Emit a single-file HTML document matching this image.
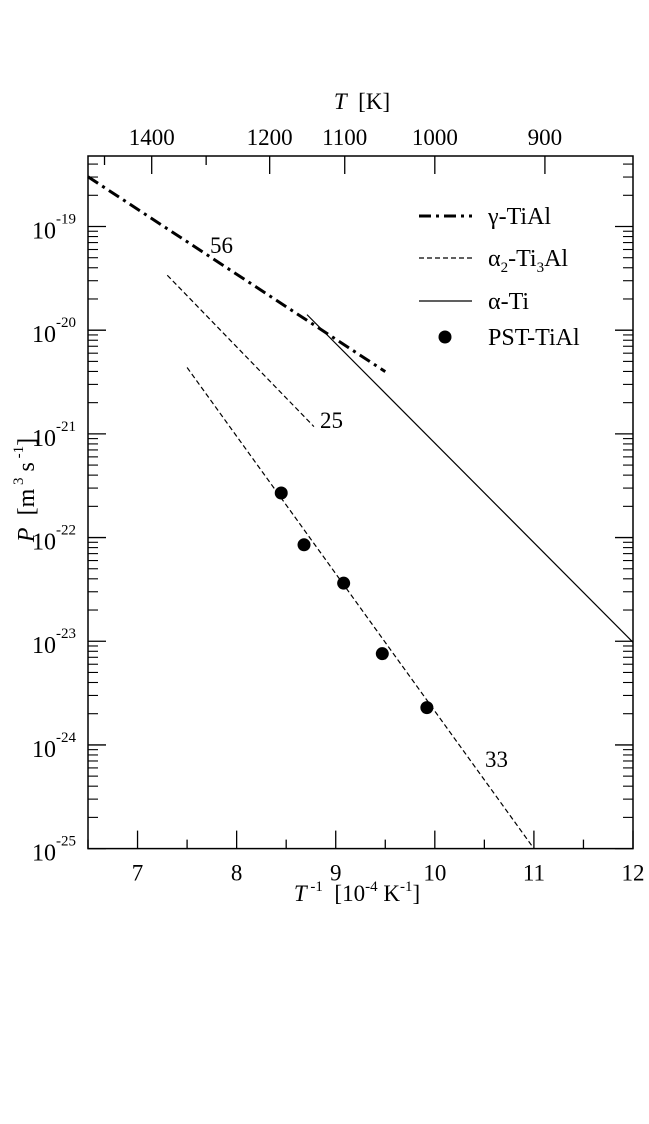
<!DOCTYPE html>
<html><head><meta charset="utf-8"><style>
html,body{margin:0;padding:0;background:#fff;}
svg text{font-family:"Liberation Serif",serif;fill:#000;}
</style></head><body>
<svg id="chart" width="649" height="1119" xmlns="http://www.w3.org/2000/svg">
<g id="axes"></g><g id="marks"></g>
</svg>
<script>
const xTicks=[7,8,9,10,11,12];
const topTicksMajor=[1400,1200,1100,1000,900];
const topTicksMinor=[1500,1300];
const yDecades=[-25,-24,-23,-22,-21,-20,-19];
const gammaX=[6.5,9.5], gammaY=[-18.52,-20.40];
const alpha2X=[7.3,8.78], alpha2Y=[-19.47,-20.93];
const alphaTiX=[8.71,12.0], alphaTiY=[-19.85,-23.01];
const pstLineX=[7.5,11.0], pstLineY=[-20.36,-25.0];
const pstX=[8.45,8.68,9.08,9.47,9.92];
const pstY=[-21.57,-22.07,-22.44,-23.12,-23.64];
const L=88,R=633,T=156,B=848.6;
const xMin=6.5,xMax=12,yMin=-25,yMax=-18.32;
const sx=v=>L+(v-xMin)/(xMax-xMin)*(R-L);
const sy=v=>B-(v-yMin)/(yMax-yMin)*(B-T);
const NS="http://www.w3.org/2000/svg";
const SP='\u00a0';
function mk(tag,attrs,parent,txt){const e=document.createElementNS(NS,tag);for(const k in attrs)e.setAttribute(k,attrs[k]);if(txt!==undefined)e.textContent=txt;parent.appendChild(e);return e;}
const ax=document.getElementById('axes'), mg=document.getElementById('marks');
let fr=mk('rect',{x:L,y:T,width:R-L,height:B-T,fill:'none',stroke:'#000','stroke-width':1.5},ax);


for(let v=6.5;v<=12.001;v+=0.5){const maj=Math.abs(v-Math.round(v))<1e-6;const len=maj?18:9;const x=sx(v);
 let t=mk('line',{x1:x,y1:B,x2:x,y2:B-len,stroke:'#000','stroke-width':1.3},ax);
 
 }
xTicks.forEach(v=>{let t=mk('text',{x:sx(v),y:B+32,'font-size':23,'text-anchor':'middle'},ax,String(v));
 
 });
topTicksMajor.forEach(T0=>{const x=sx(1e4/T0);
 let l=mk('line',{x1:x,y1:T,x2:x,y2:T+18,stroke:'#000','stroke-width':1.3},ax);
 
 
 let t=mk('text',{x:x,y:T-11,'font-size':23,'text-anchor':'middle'},ax,String(T0));
 
 });
topTicksMinor.forEach(T0=>{const x=sx(1e4/T0);
 let l=mk('line',{x1:x,y1:T,x2:x,y2:T+9,stroke:'#000','stroke-width':1.3},ax);
 
 });
for(let d=-25;d<=-19;d++){for(let m=1;m<=9;m++){const lv=d+Math.log10(m);if(lv>yMax)continue;const y=sy(lv);const len=m==1?18:10;
 [[L,L+len],[R,R-len]].forEach(p=>{let l=mk('line',{x1:p[0],y1:y,x2:p[1],y2:y,stroke:'#000','stroke-width':m==1?1.3:1.1},ax);
 
 });}}
yDecades.forEach(d=>{const y=sy(d);
 let t=mk('text',{x:32,y:y+12,'font-size':24},ax);
 
 
 mk('tspan',{},t,'10');mk('tspan',{dy:-15,'font-size':15},t,String(d));});
let xt=mk('text',{x:357,y:901,'font-size':23,'text-anchor':'middle'},ax);


mk('tspan',{'font-style':'italic'},xt,'T');mk('tspan',{dy:-10,'font-size':15},xt,SP+'-1');mk('tspan',{dy:10},xt,SP+SP+'[10');mk('tspan',{dy:-10,'font-size':15},xt,'-4');mk('tspan',{dy:10},xt,SP+'K');mk('tspan',{dy:-10,'font-size':15},xt,'-1');mk('tspan',{dy:10},xt,']');
let tt=mk('text',{x:362,y:109,'font-size':23,'text-anchor':'middle'},ax);


mk('tspan',{'font-style':'italic'},tt,'T');mk('tspan',{},tt,SP+SP+'[K]');
let yt=mk('text',{x:0,y:0,'font-size':24,'text-anchor':'middle',transform:'translate(34,490) rotate(-90)'},ax);


mk('tspan',{'font-style':'italic'},yt,'P');mk('tspan',{},yt,SP+SP+'[m');mk('tspan',{dy:-11,'font-size':15},yt,SP+'3');mk('tspan',{dy:11},yt,SP+'s');mk('tspan',{dy:-11,'font-size':15},yt,SP+'-1');mk('tspan',{dy:11},yt,']');
function seg(X,Y,dash,w,name){let l=mk('line',{x1:sx(X[0]),y1:sy(Y[0]),x2:sx(X[1]),y2:sy(Y[1]),stroke:'#000','stroke-width':w,'stroke-dasharray':dash},mg);
 
 }
seg(gammaX,gammaY,'12,5,3,5',3,'gamma-tial-line');
seg(alpha2X,alpha2Y,'5,3',1.2,'alpha2-ti3al-line');
seg(alphaTiX,alphaTiY,'none',1.2,'alpha-ti-line');
seg(pstLineX,pstLineY,'5,3',1.2,'pst-tial-fit-line');
pstX.forEach((x,i)=>{let c=mk('circle',{cx:sx(x),cy:sy(pstY[i]),r:6.5,fill:'#000'},mg);
 
 });
[['56',210,253],['25',320,428],['33',485,767]].forEach(a=>{let t=mk('text',{x:a[1],y:a[2],'font-size':23},mg,a[0]);
 
 });
const lg=mk('g',{},mg);


const lx1=419,lx2=472,tx=488;
let r1=mk('line',{x1:lx1,y1:216,x2:lx2,y2:216,stroke:'#000','stroke-width':3,'stroke-dasharray':'12,5,3,5'},lg);


let r2=mk('line',{x1:lx1,y1:258,x2:lx2,y2:258,stroke:'#000','stroke-width':1.2,'stroke-dasharray':'5,3'},lg);


let r3=mk('line',{x1:lx1,y1:301,x2:lx2,y2:301,stroke:'#000','stroke-width':1.2},lg);


let r4=mk('circle',{cx:445,cy:337,r:6.5,fill:'#000'},lg);


let e1=mk('text',{x:tx,y:224,'font-size':24},lg,'γ-TiAl');


let e2=mk('text',{x:tx,y:266,'font-size':24},lg);


mk('tspan',{},e2,'α');mk('tspan',{dy:6,'font-size':15},e2,'2');mk('tspan',{dy:-6},e2,'-Ti');mk('tspan',{dy:6,'font-size':15},e2,'3');mk('tspan',{dy:-6},e2,'Al');
let e3=mk('text',{x:tx,y:309,'font-size':24},lg,'α-Ti');


let e4=mk('text',{x:tx,y:345,'font-size':24},lg,'PST-TiAl');


</script>
</body></html>
